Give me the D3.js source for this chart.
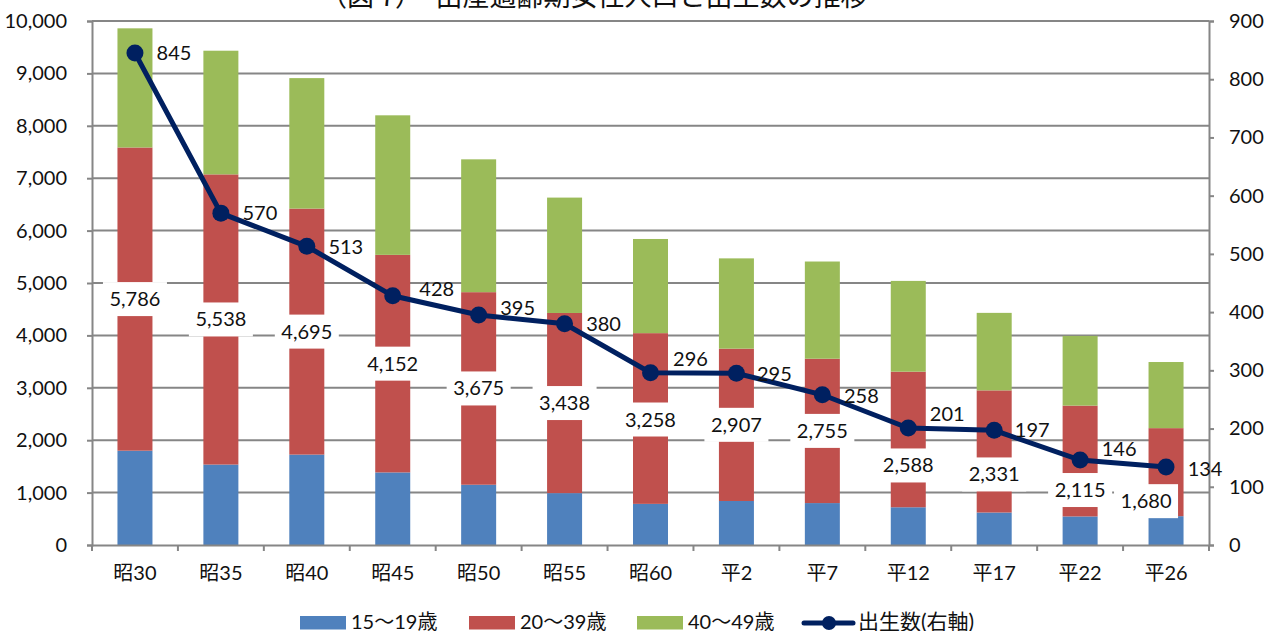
<!DOCTYPE html>
<html lang="ja">
<head>
<meta charset="UTF-8">
<script src="https://d3js.org/d3.v7.min.js"></script>
<title>出産適齢期女性人口と出生数の推移</title>
<style>
  html, body { margin: 0; padding: 0; background: #fff; }
  text { font-family: Lato, "Noto Sans CJK JP", sans-serif; fill: #111; }
  .cjk { font-family: "Noto Sans CJK JP", sans-serif; }
</style>
</head>
<body>
<svg id="chart" width="1264" height="631" style="display:block"></svg>
<script>
// data
const categories = ["昭30","昭35","昭40","昭45","昭50","昭55","昭60","平2","平7","平12","平17","平22","平26"];
const age15to19 = [1800,1535,1725,1385,1150,990,785,840,800,720,620,545,550];
const age20to39 = [5786,5538,4695,4152,3675,3438,3258,2907,2755,2588,2331,2115,1680];
const age40to49 = [2274,2360,2490,2663,2535,2202,1797,1723,1855,1732,1479,1330,1262];
const births = [845,570,513,428,395,380,296,295,258,201,197,146,134];
const leftTicks = [0,1000,2000,3000,4000,5000,6000,7000,8000,9000,10000];
const rightTicks = [0,100,200,300,400,500,600,700,800,900];
const seriesNames = ["15〜19歳","20〜39歳","40〜49歳"];
const lineName = "出生数(右軸)";
const titleText = "（図 7）　出産適齢期女性人口と出生数の推移";

// hand placed label offsets, like the moved data labels in the original
const redLabelDx = [0,0,0,0,0,0,0,0,0,0,0,0,-20];
const redLabelDy = [0,0,0,0,0,0,1,0,0,26,23,29,29];
const birthLabelDx = [39,39,39,44,39,39,40,38,39,39,38,39,39];
const birthLabelDy = [0,0,1,-7,-7,0,-14,1,1,-14,0,-11,2];

const colors = ["#4f81bd","#c0504d","#9bbb59"];
const navy = "#002060";
const gridColor = "#868686";
const fontSize = 20;

const svg = d3.select("#chart");
const plot = {left: 92, right: 1209, top: 21, bottom: 545};

const x = d3.scaleBand().domain(categories).range([plot.left, plot.right]);
const y = d3.scaleLinear().domain([0,10000]).range([plot.bottom, plot.top]);
const y2 = d3.scaleLinear().domain([0,900]).range([plot.bottom, plot.top]);
const barW = 35;
const cx = d => x(d) + x.bandwidth()/2;

// gridlines
svg.append("g").selectAll("line").data(leftTicks.slice(1)).join("line")
  .attr("x1", plot.left).attr("x2", plot.right)
  .attr("y1", d => y(d)).attr("y2", d => y(d))
  .attr("stroke", gridColor).attr("stroke-width", 2);

// stacked bars
const rows = categories.map((c,i) => ({cat: c, a: age15to19[i], b: age20to39[i], c: age40to49[i]}));
const stacked = d3.stack().keys(["a","b","c"])(rows);
svg.append("g").selectAll("g").data(stacked).join("g")
  .attr("fill", (d,i) => colors[i])
  .selectAll("rect").data(d => d).join("rect")
  .attr("x", d => cx(d.data.cat) - barW/2)
  .attr("width", barW)
  .attr("y", d => y(d[1]))
  .attr("height", d => y(d[0]) - y(d[1]));

// axes
const leftAxis = d3.axisLeft(y).tickValues(leftTicks).tickFormat(d3.format(",")).tickSize(5).tickPadding(20);
const rightAxis = d3.axisRight(y2).tickValues(rightTicks).tickSize(5).tickPadding(15);
const bottomAxis = d3.axisBottom(x).tickSize(0).tickPadding(21);

function styleAxis(g) {
  g.selectAll("path").attr("stroke", gridColor).attr("stroke-width", 2);
  g.selectAll("line").attr("stroke", gridColor).attr("stroke-width", 2);
  g.selectAll("text").attr("font-size", fontSize);
  g.attr("font-family", null).attr("font-size", null);
}
svg.append("g").attr("transform", `translate(${plot.left},0)`).call(leftAxis).call(styleAxis);
svg.append("g").attr("transform", `translate(${plot.right},0)`).call(rightAxis).call(styleAxis);
svg.append("g").attr("transform", `translate(0,${plot.bottom})`).call(bottomAxis).call(styleAxis);

// the x ticks sit on the category boundaries
const edges = categories.map(c => x(c)).concat([plot.right]);
svg.append("g").selectAll("line").data(edges).join("line")
  .attr("x1", d => d).attr("x2", d => d)
  .attr("y1", plot.bottom).attr("y2", plot.bottom + 6)
  .attr("stroke", gridColor).attr("stroke-width", 2);

// white boxed labels of the 20-39 series
const redLabels = svg.append("g");
rows.forEach((r,i) => {
  const lx = cx(r.cat) + redLabelDx[i];
  const ly = y(r.a + r.b/2) + redLabelDy[i];
  redLabels.append("rect").attr("x", lx - 32).attr("y", ly - 17).attr("width", 64).attr("height", 34).attr("fill", "#fff");
  redLabels.append("text").attr("x", lx).attr("y", ly + 7).attr("text-anchor", "middle")
    .attr("font-size", fontSize).text(d3.format(",")(r.b));
});

// birth line
const line = d3.line().x((d,i) => cx(categories[i])).y(d => y2(d));
svg.append("path").datum(births).attr("d", line).attr("fill", "none").attr("stroke", navy).attr("stroke-width", 5);
svg.append("g").selectAll("circle").data(births).join("circle")
  .attr("cx", (d,i) => cx(categories[i])).attr("cy", d => y2(d)).attr("r", 8.5).attr("fill", navy);

svg.append("g").selectAll("text").data(births).join("text")
  .attr("x", (d,i) => cx(categories[i]) + birthLabelDx[i])
  .attr("y", (d,i) => y2(d) + 7 + birthLabelDy[i])
  .attr("text-anchor", "middle").attr("font-size", fontSize).text(d => d);

// legend
const legendX = [300,469,637];
seriesNames.forEach((n,i) => {
  svg.append("rect").attr("x", legendX[i]).attr("y", 616).attr("width", 46).attr("height", 13.5).attr("fill", colors[i]);
  svg.append("text").attr("x", legendX[i] + 51).attr("y", 629).attr("font-size", 20).text(n);
});
svg.append("line").attr("x1", 804).attr("x2", 853).attr("y1", 623).attr("y2", 623)
  .attr("stroke", navy).attr("stroke-width", 5).attr("stroke-linecap", "round");
svg.append("circle").attr("cx", 829).attr("cy", 623).attr("r", 7).attr("fill", navy);
svg.append("text").attr("x", 858).attr("y", 629).attr("font-size", 21).text(lineName);

// title is cut off by the top edge in the original
svg.append("text").attr("class","cjk").attr("x", 320).attr("y", 6).attr("font-size", 27).text(titleText);
</script>
</body>
</html>
